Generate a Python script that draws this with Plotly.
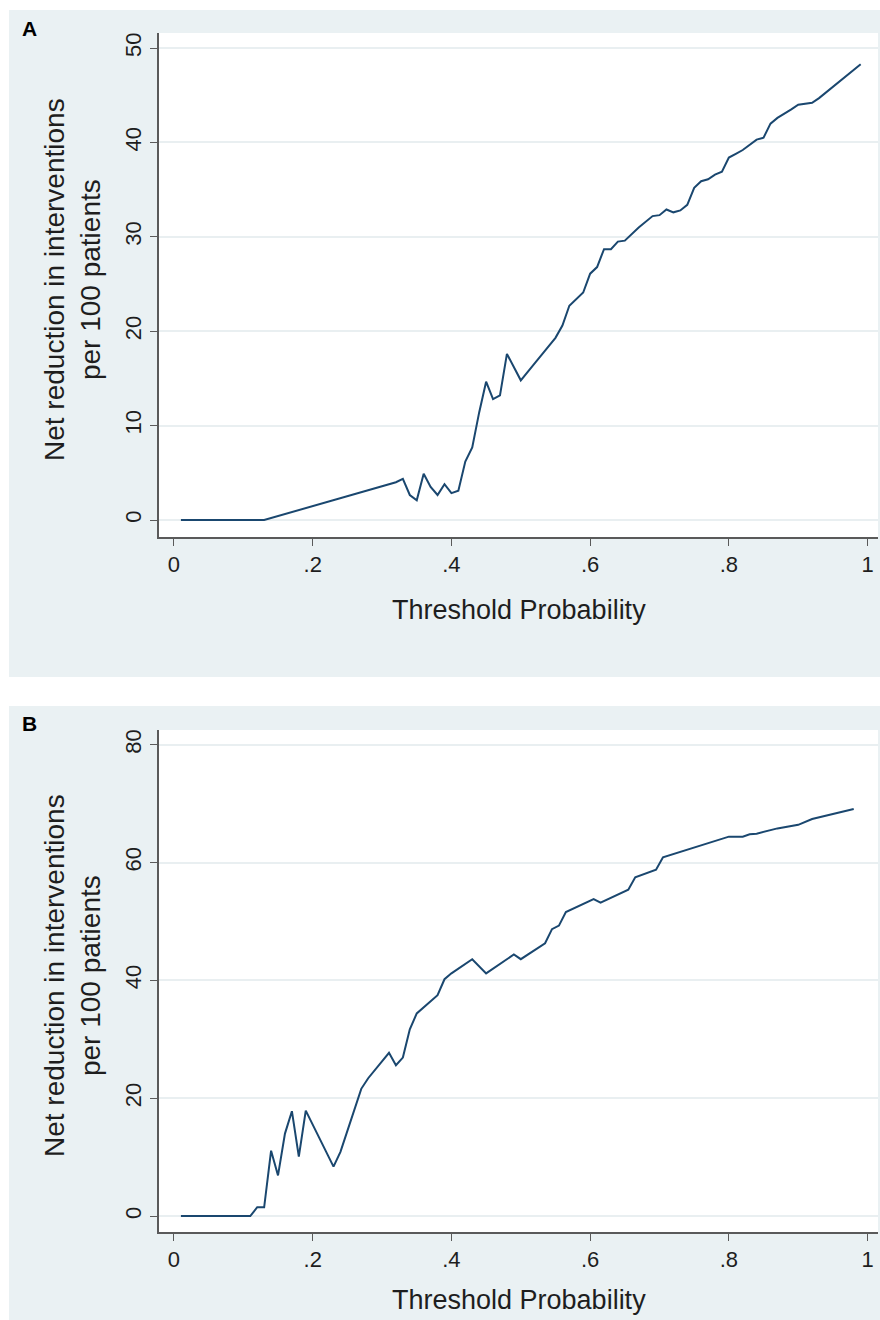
import plotly.graph_objects as go

# ---- data ----
thr_a = [0.01, 0.13, 0.32, 0.33, 0.34, 0.35, 0.36, 0.37, 0.38, 0.39, 0.40, 0.41, 0.42, 0.43,
         0.44, 0.45, 0.46, 0.47, 0.48, 0.50, 0.52, 0.54, 0.55, 0.56, 0.57, 0.59, 0.60, 0.61,
         0.62, 0.63, 0.64, 0.65, 0.66, 0.67, 0.69, 0.70, 0.71, 0.72, 0.73, 0.74, 0.75, 0.76,
         0.77, 0.78, 0.79, 0.80, 0.81, 0.82, 0.84, 0.85, 0.86, 0.87, 0.89, 0.90, 0.92, 0.93, 0.99]
net_a = [0, 0, 4.0, 4.35, 2.65, 2.1, 4.9, 3.5, 2.65, 3.8, 2.85, 3.1, 6.2, 7.7,
         11.4, 14.65, 12.8, 13.2, 17.6, 14.8, 16.6, 18.4, 19.3, 20.6, 22.7, 24.1, 26.1, 26.8,
         28.7, 28.7, 29.5, 29.6, 30.3, 31.0, 32.2, 32.3, 32.9, 32.6, 32.8, 33.4, 35.2, 35.9,
         36.1, 36.6, 36.9, 38.4, 38.8, 39.2, 40.3, 40.5, 42.0, 42.6, 43.5, 44.0, 44.2, 44.7, 48.3]

thr_b = [0.01, 0.11, 0.12, 0.13, 0.14, 0.15, 0.16, 0.17, 0.18, 0.19, 0.23, 0.24, 0.27, 0.28,
         0.31, 0.32, 0.33, 0.34, 0.35, 0.38, 0.39, 0.40, 0.43, 0.45, 0.49, 0.50, 0.535, 0.545,
         0.555, 0.565, 0.605, 0.615, 0.655, 0.665, 0.695, 0.705, 0.80, 0.82, 0.83, 0.84, 0.87,
         0.90, 0.92, 0.98]
net_b = [0, 0, 1.5, 1.5, 11.1, 6.9, 14.0, 17.8, 10.1, 17.9, 8.4, 10.9, 21.6, 23.4,
         27.7, 25.6, 26.9, 31.7, 34.4, 37.5, 40.2, 41.2, 43.6, 41.2, 44.4, 43.6, 46.3, 48.7,
         49.3, 51.6, 53.8, 53.2, 55.4, 57.5, 58.8, 60.9, 64.4, 64.4, 64.8, 64.9, 65.8,
         66.4, 67.4, 69.1]

x_tickvals = [0, 0.2, 0.4, 0.6, 0.8, 1]
x_ticktext = ["0", ".2", ".4", ".6", ".8", "1"]
y_ticks_a = [0, 10, 20, 30, 40, 50]
y_ticks_b = [0, 20, 40, 60, 80]

panel_labels = ["A", "B"]
x_title = "Threshold Probability"
y_title = "Net reduction in interventions<br>per 100 patients"

# ---- geometry (pixels) ----
W, H = 880, 1320
def px(x):
    return x / W
def py(y):
    return 1 - y / H

LINE = "#1A476F"
OUTER = "#EAF1F3"
GRID = "#E9EFF1"
AXIS = "#5A5A5A"
TXT = "#1E1E1E"
FONT = "Liberation Sans, Arial, sans-serif"

fig = go.Figure()
fig.add_trace(go.Scatter(x=thr_a, y=net_a, mode="lines", line=dict(color=LINE, width=2),
                         xaxis="x", yaxis="y", showlegend=False))
fig.add_trace(go.Scatter(x=thr_b, y=net_b, mode="lines", line=dict(color=LINE, width=2),
                         xaxis="x2", yaxis="y2", showlegend=False))

panels = [
    dict(outer=(9, 10, 880, 677), plot=(159, 33, 878, 537), label_y=28, xt_y=610, yt_y=280),
    dict(outer=(9, 706, 880, 1330), plot=(159, 730, 878, 1232), label_y=723, xt_y=1300, yt_y=976),
]

shapes = []
annotations = []
for i, p in enumerate(panels):
    ox0, oy0, ox1, oy1 = p["outer"]
    shapes.append(dict(type="rect", xref="paper", yref="paper", x0=px(ox0), x1=px(ox1),
                       y0=py(oy1), y1=py(oy0), fillcolor=OUTER, line=dict(width=0), layer="below"))
    x0, y0, x1, y1 = p["plot"]
    shapes.append(dict(type="rect", xref="paper", yref="paper", x0=px(x0), x1=px(x1),
                       y0=py(y1), y1=py(y0), fillcolor="white", line=dict(width=0), layer="below"))
    annotations.append(dict(text="<b>%s</b>" % panel_labels[i], xref="paper", yref="paper",
                            x=px(30), y=py(p["label_y"]), xanchor="center", yanchor="middle",
                            showarrow=False, font=dict(size=21, color="black", family=FONT)))
    annotations.append(dict(text=x_title, xref="paper", yref="paper",
                            x=px((x0 + x1) / 2), y=py(p["xt_y"]), xanchor="center",
                            yanchor="middle", showarrow=False,
                            font=dict(size=27, color=TXT, family=FONT)))
    annotations.append(dict(text=y_title, xref="paper", yref="paper", textangle=-90,
                            x=px(72), y=py(p["yt_y"]), xanchor="center", yanchor="middle",
                            showarrow=False, font=dict(size=28, color=TXT, family=FONT)))

x_range = [-0.0216, 1.015]
xcommon = dict(range=x_range, tickvals=x_tickvals, ticktext=x_ticktext, showgrid=False,
               zeroline=False, showline=True, linecolor=AXIS, linewidth=1.5, ticks="outside",
               ticklen=7, tickcolor=AXIS, tickwidth=1.2,
               tickfont=dict(size=22, color=TXT, family=FONT), fixedrange=True)
ycommon = dict(showgrid=True, gridcolor=GRID, gridwidth=1.5, zeroline=False, showline=True,
               linecolor=AXIS, linewidth=1.5, ticks="outside", ticklen=7, tickcolor=AXIS,
               tickwidth=1.2, tickangle=-90,
               tickfont=dict(size=22, color=TXT, family=FONT), fixedrange=True)

pa, pb = panels[0]["plot"], panels[1]["plot"]
fig.update_layout(
    width=W, height=H, margin=dict(l=0, r=0, t=0, b=0),
    paper_bgcolor="white", plot_bgcolor="rgba(0,0,0,0)",
    xaxis=dict(domain=[px(pa[0]), px(pa[2])], anchor="y", **xcommon),
    yaxis=dict(domain=[py(pa[3]), py(pa[1])], anchor="x", range=[-1.8, 51.6],
               tickvals=y_ticks_a, **ycommon),
    xaxis2=dict(domain=[px(pb[0]), px(pb[2])], anchor="y2", **xcommon),
    yaxis2=dict(domain=[py(pb[3]), py(pb[1])], anchor="x2", range=[-2.7, 82.5],
                tickvals=y_ticks_b, **ycommon),
    shapes=shapes, annotations=annotations, showlegend=False,
)

fig.write_html("out.html")
